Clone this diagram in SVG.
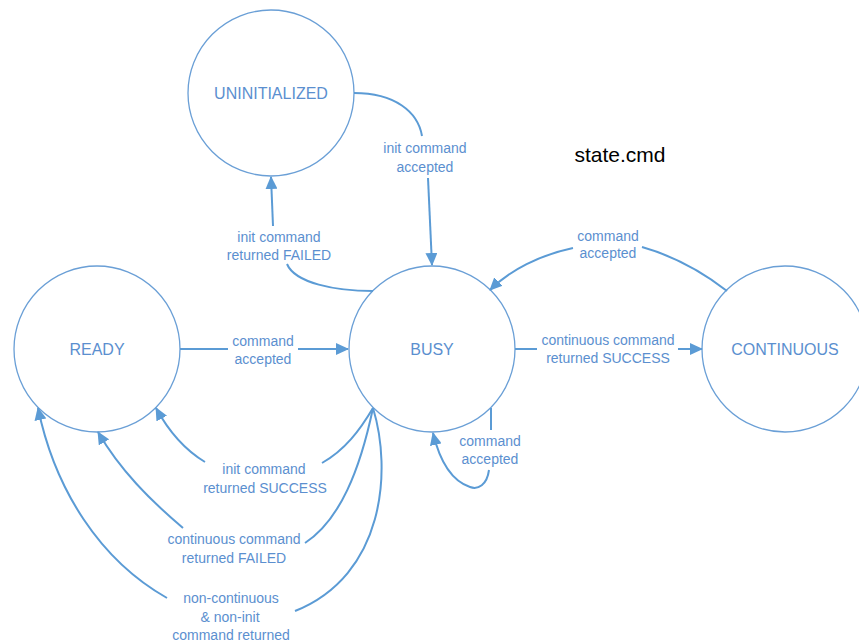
<svg xmlns="http://www.w3.org/2000/svg" width="859" height="644" viewBox="0 0 859 644">
<defs>
<style>
.state{fill:#ffffff;stroke:#6a9fd6;stroke-width:1.3}
.sl{font-family:"Liberation Sans",Arial,sans-serif;font-size:16px;fill:#5b8fcf;text-anchor:middle}
.lb{font-family:"Liberation Sans",Arial,sans-serif;font-size:14px;fill:#5b8fcf;text-anchor:middle}
.c{fill:none;stroke:#5b9bd5;stroke-width:2}
.a{marker-end:url(#ah)}
</style>
<marker id="ah" markerUnits="userSpaceOnUse" markerWidth="14" markerHeight="12" refX="12" refY="6" orient="auto">
<path d="M0,0 L13,6 L0,12 z" fill="#5b9bd5"/>
</marker>
</defs>
<rect width="859" height="644" fill="#ffffff"/>
<g id="node-uninitialized"><circle class="state" cx="271" cy="93" r="83"/><text class="sl" x="271" y="99">UNINITIALIZED</text></g>
<g id="node-ready"><circle class="state" cx="97" cy="349" r="83"/><text class="sl" x="97" y="355">READY</text></g>
<g id="node-busy"><circle class="state" cx="432" cy="349" r="83"/><text class="sl" x="432" y="355">BUSY</text></g>
<g id="node-continuous"><circle class="state" cx="785" cy="349" r="83"/><text class="sl" x="785" y="355">CONTINUOUS</text></g>
<text x="620" y="162" font-family="'Liberation Sans',Arial,sans-serif" font-size="21" fill="#000000" text-anchor="middle">state.cmd</text>
<g id="connectors">
<path class="c" d="M354,93 C395,93 418,112 422,136"/>
<path class="c a" d="M428,178 L432,265"/>
<path class="c" d="M373,291 C335,291 295,283 287,264"/>
<path class="c a" d="M273,226 L271,177"/>
<path class="c" d="M180,349 L228,349"/>
<path class="c a" d="M298,349 L348,349"/>
<path class="c" d="M515,349 L537,349"/>
<path class="c a" d="M678,349 L702,349"/>
<path class="c" d="M727,291 C700,270 670,255 642,247"/>
<path class="c a" d="M573,248 C540,255 510,270 490,290"/>
<path class="c" d="M491,408 L491,430"/>
<path class="c a" d="M489,470 C487,485 478,490 470,487 C452,481 440,462 433,433"/>
<path class="c" d="M373,408 C360,430 345,450 322,463"/>
<path class="c a" d="M205,462 C185,450 168,430 156,408"/>
<path class="c" d="M373,408 C360,470 340,520 305,543"/>
<path class="c a" d="M183,528 C150,500 120,470 98,432"/>
<path class="c" d="M373,408 C392,470 385,575 295,611"/>
<path class="c a" d="M167,598 C100,560 55,490 38,408"/>
</g>
<g id="labels">
<text class="lb" x="425" y="153">init command</text><text class="lb" x="425" y="172">accepted</text>
<text class="lb" x="279" y="242">init command</text><text class="lb" x="279" y="260">returned FAILED</text>
<text class="lb" x="263" y="346">command</text><text class="lb" x="263" y="364">accepted</text>
<text class="lb" x="608" y="345">continuous command</text><text class="lb" x="608" y="363">returned SUCCESS</text>
<text class="lb" x="608" y="241">command</text><text class="lb" x="608" y="258">accepted</text>
<text class="lb" x="490" y="446">command</text><text class="lb" x="490" y="464">accepted</text>
<text class="lb" x="264" y="474">init command</text><text class="lb" x="265" y="493">returned SUCCESS</text>
<text class="lb" x="234" y="544">continuous command</text><text class="lb" x="234" y="563">returned FAILED</text>
<text class="lb" x="231" y="603">non-continuous</text><text class="lb" x="230" y="622">&amp; non-init</text><text class="lb" x="231" y="640">command returned</text>
</g>
</svg>
